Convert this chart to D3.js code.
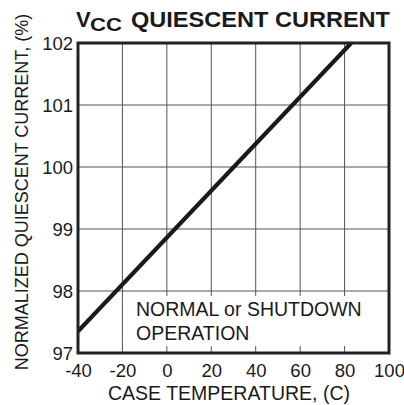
<!DOCTYPE html>
<html><head><meta charset="utf-8">
<script src="https://cdn.jsdelivr.net/npm/d3@7"></script>
<style>body{margin:0;background:#fff}svg{display:block}text{font-family:"Liberation Sans",Arial,sans-serif;fill:#1a1a1a}</style>
</head><body>
<svg id="c" width="404" height="405"></svg>
<script>
const xTicks = [-40, -20, 0, 20, 40, 60, 80, 100];
const yTicks = [97, 98, 99, 100, 101, 102];
const temps = [-40, 83];
const current = [97.35, 102.0];
const titleMain = "V";
const titleSub = "CC";
const titleRest = "QUIESCENT CURRENT";
const xLabel = "CASE TEMPERATURE, (C)";
const yLabel = "NORMALIZED QUIESCENT CURRENT, (%)";
const note = ["NORMAL or SHUTDOWN", "OPERATION"];

const svg = d3.select("#c");
const L = 78, R = 389, T = 43, B = 353;
const x = d3.scaleLinear().domain([-40, 100]).range([L, R]);
const y = d3.scaleLinear().domain([97, 102]).range([B, T]);

// grid
svg.append("g").selectAll("line.v").data(xTicks.slice(1, -1)).join("line")
  .attr("x1", d => x(d)).attr("x2", d => x(d)).attr("y1", T).attr("y2", B)
  .attr("stroke", "#555").attr("stroke-width", 1);
svg.append("g").selectAll("line.h").data(yTicks.slice(1, -1)).join("line")
  .attr("y1", d => y(d)).attr("y2", d => y(d)).attr("x1", L).attr("x2", R)
  .attr("stroke", "#555").attr("stroke-width", 1);

// annotation box (masks grid)
svg.append("rect").attr("x", x(-20) + 2).attr("y", y(98) + 5)
  .attr("width", R - x(-20) - 3).attr("height", (B - 7) - (y(98) + 5)).attr("fill", "#fff");
svg.selectAll("text.note").data(note).join("text")
  .attr("x", 136).attr("y", (d, i) => 316 + i * 23.5)
  .attr("font-size", 19.5).text(d => d);

// data line
svg.append("clipPath").attr("id", "clip").append("rect")
  .attr("x", L).attr("y", T).attr("width", R - L).attr("height", B - T);
const pts = temps.map((t, i) => [t, current[i]]);
svg.append("path").datum(pts)
  .attr("d", d3.line().x(d => x(d[0])).y(d => y(d[1])))
  .attr("clip-path", "url(#clip)")
  .attr("fill", "none").attr("stroke", "#1a1a1a").attr("stroke-width", 4.2);

// frame
svg.append("rect").attr("x", L).attr("y", T).attr("width", R - L).attr("height", B - T)
  .attr("fill", "none").attr("stroke", "#222").attr("stroke-width", 3);

// axes labels via d3 axes
const xa = svg.append("g").attr("transform", `translate(0,${B})`)
  .call(d3.axisBottom(x).tickValues(xTicks).tickSize(0).tickPadding(0).tickFormat(d => String(d)));
xa.select(".domain").remove();
xa.selectAll("text").attr("font-size", 18.5).attr("dy", null).attr("y", 24)
  .attr("font-family", "Liberation Sans, Arial, sans-serif").attr("fill", "#1a1a1a");

const ya = svg.append("g").attr("transform", `translate(${L},0)`)
  .call(d3.axisLeft(y).tickValues(yTicks).tickSize(0).tickPadding(5).tickFormat(d => String(d)));
ya.select(".domain").remove();
ya.selectAll("text").attr("font-size", 18.5).attr("dy", "0.36em")
  .attr("font-family", "Liberation Sans, Arial, sans-serif").attr("fill", "#1a1a1a");

svg.append("text").attr("x", 229).attr("y", 400).attr("text-anchor", "middle")
  .attr("font-size", 19.5).text(xLabel);
svg.append("text").attr("transform", "translate(28,192) rotate(-90)").attr("text-anchor", "middle")
  .attr("font-size", 18).text(yLabel);

// title
svg.append("text").attr("font-weight", "bold").attr("x", 76).attr("y", 27)
  .attr("font-size", 22).text(titleMain);
svg.append("text").attr("font-weight", "bold").attr("x", 90).attr("y", 30.5)
  .attr("font-size", 18.5).attr("textLength", 32).attr("lengthAdjust", "spacingAndGlyphs").text(titleSub);
svg.append("text").attr("font-weight", "bold").attr("x", 131).attr("y", 27)
  .attr("font-size", 22).attr("textLength", 259).attr("lengthAdjust", "spacingAndGlyphs").text(titleRest);
</script>
</body></html>
